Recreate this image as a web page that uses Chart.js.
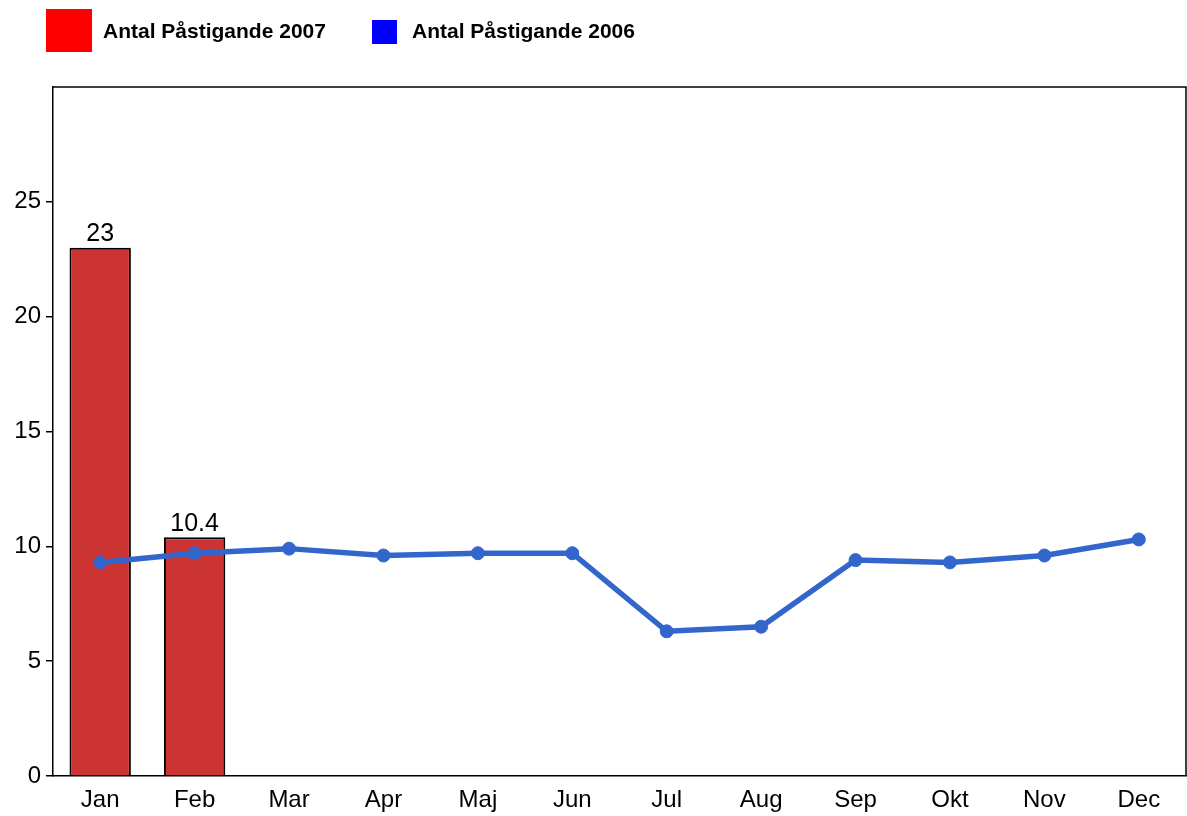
<!DOCTYPE html>
<html>
<head>
<meta charset="utf-8">
<script src="https://cdn.jsdelivr.net/npm/chart.js@4/dist/chart.umd.min.js"></script>
<style>
  html, body { margin: 0; padding: 0; background: #fff; overflow: hidden; }
  #wrap { position: relative; width: 1187px; height: 816px; }
  canvas { display: block; }
  #legend { position: absolute; left: 0; top: 0; width: 1187px; height: 60px;
    font-family: "Liberation Sans", Arial, sans-serif; font-weight: bold; font-size: 21px; color: #000; }
  .box { position: absolute; }
  .lbl { position: absolute; line-height: 24px; white-space: nowrap; }
</style>
</head>
<body>
<div id="wrap">
  <canvas id="chart" width="1187" height="816"></canvas>
  <div id="legend">
    <div class="box" style="left:46px;top:9px;width:46px;height:43px;background:#ff0000"></div>
    <div class="lbl" style="left:103px;top:19px">Antal Påstigande 2007</div>
    <div class="box" style="left:372px;top:20px;width:25px;height:24px;background:#0000ff"></div>
    <div class="lbl" style="left:412px;top:19px">Antal Påstigande 2006</div>
  </div>
</div>
<script>
const months = ["Jan", "Feb", "Mar", "Apr", "Maj", "Jun", "Jul", "Aug", "Sep", "Okt", "Nov", "Dec"];
const values2007 = [23, 10.4, null, null, null, null, null, null, null, null, null, null];
const values2006 = [9.3, 9.7, 9.9, 9.6, 9.7, 9.7, 6.3, 6.5, 9.4, 9.3, 9.6, 10.3];
const yTicks = [0, 5, 10, 15, 20, 25];

const font = "Liberation Sans, Arial, sans-serif";

// frame round the plot + value labels above bars
const extras = {
  id: "extras",
  afterDatasetsDraw(chart) {
    const ctx = chart.ctx;
    const meta = chart.getDatasetMeta(0);
    ctx.save();
    ctx.fillStyle = "#000";
    ctx.font = "25px " + font;
    ctx.textAlign = "center";
    ctx.textBaseline = "bottom";
    meta.data.forEach((bar, i) => {
      const v = values2007[i];
      if (v == null) return;
      ctx.fillText(String(v), bar.x, bar.y - 1);
    });
    ctx.restore();
  },
  afterDraw(chart) {
    const a = chart.chartArea;
    const ctx = chart.ctx;
    ctx.save();
    ctx.strokeStyle = "#000";
    ctx.lineWidth = 1.5;
    ctx.beginPath();
    ctx.moveTo(a.left, a.top);
    ctx.lineTo(a.right, a.top);
    ctx.lineTo(a.right, a.bottom);
    ctx.stroke();
    ctx.restore();
  }
};

new Chart(document.getElementById("chart"), {
  data: {
    labels: months,
    datasets: [
      {
        type: "bar",
        label: "Antal Påstigande 2007",
        data: values2007,
        backgroundColor: "#cc3333",
        borderColor: "#000",
        borderWidth: 2,
        barPercentage: 0.65,
        categoryPercentage: 1,
        order: 2
      },
      {
        type: "line",
        label: "Antal Påstigande 2006",
        data: values2006,
        borderColor: "#3366cc",
        backgroundColor: "#3366cc",
        borderWidth: 5.5,
        pointRadius: 6.5,
        pointBorderWidth: 1,
        pointHoverRadius: 6.5,
        tension: 0,
        fill: false,
        order: 1
      }
    ]
  },
  options: {
    responsive: false,
    animation: false,
    layout: { autoPadding: false, padding: { top: 87, right: 1, left: 0, bottom: 0 } },
    plugins: {
      legend: { display: false },
      tooltip: { enabled: false }
    },
    scales: {
      x: {
        offset: true,
        grid: { display: false },
        border: { display: true, color: "#000", width: 1.5 },
        ticks: { color: "#000", font: { family: font, size: 24 }, padding: 2, maxRotation: 0 },
        afterFit: s => { s.height = 40; }
      },
      y: {
        min: 0,
        max: 30,
        afterBuildTicks: s => { s.ticks = yTicks.map(v => ({ value: v })); },
        grid: { drawOnChartArea: false, color: "#000", tickLength: 7, lineWidth: 1.5 },
        border: { display: true, color: "#000", width: 1.5 },
        ticks: { color: "#000", font: { family: font, size: 24 }, padding: 5 },
        afterFit: s => { s.width = 53; }
      }
    }
  },
  plugins: [extras]
});
</script>
</body>
</html>
